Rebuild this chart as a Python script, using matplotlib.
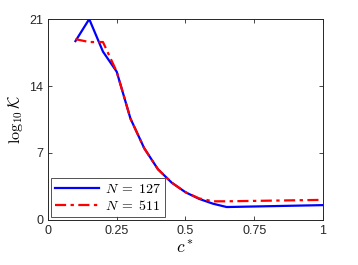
import matplotlib
matplotlib.use("Agg")
import matplotlib.pyplot as plt

plt.rcParams['mathtext.fontset'] = 'cm'
plt.rcParams['font.family'] = ['Liberation Sans', 'DejaVu Sans']

c_127 = [0.10, 0.15, 0.20, 0.25, 0.30, 0.35, 0.40, 0.45, 0.50, 0.55, 0.60, 0.65, 1.00]
k_127 = [18.7, 21.0, 17.6, 15.5, 10.6, 7.5, 5.3, 3.9, 2.9, 2.2, 1.7, 1.35, 1.55]
c_511 = [0.10, 0.15, 0.20, 0.25, 0.30, 0.35, 0.40, 0.45, 0.50, 0.55, 0.60, 0.65, 1.00]
k_511 = [18.9, 18.6, 18.6, 15.5, 10.6, 7.5, 5.3, 3.9, 2.9, 2.25, 1.95, 1.95, 2.1]
labels = [r'$N\;=\;127$', r'$N\;=\;511$']
xticks = [0, 0.25, 0.5, 0.75, 1]
xticklabels = ['0', '0.25', '0.5', '0.75', '1']
yticks = [0, 7, 14, 21]

fig = plt.figure(figsize=(3.58, 2.65), dpi=100)
ax = fig.add_axes([0.134, 0.170, 0.768, 0.758])
ax.plot(c_127, k_127, color='#0000ff', lw=1.6, label=labels[0])
ax.plot(c_511, k_511, color='#ff0000', lw=1.6, ls=(0, (5, 2, 1.5, 2)), label=labels[1])
ax.set_xlim(0, 1)
ax.set_ylim(0, 21)
ax.set_xticks(xticks)
ax.set_xticklabels(xticklabels)
ax.set_yticks(yticks)
for s in ax.spines.values():
    s.set_color('#262626')
    s.set_linewidth(0.7)
ax.tick_params(direction='in', top=True, right=True, labelsize=9, colors='#262626', length=3, width=0.6)
ax.set_xlabel('$c^*$', fontsize=12.5, labelpad=2)
ax.set_ylabel(r'$\log_{10}\mathcal{K}$', fontsize=11.5, labelpad=3)
leg = ax.legend(loc='lower left', fontsize=10, frameon=True, fancybox=False, edgecolor='#262626',
                handlelength=3.2, borderpad=0.3, labelspacing=0.2, handletextpad=0.4,
                borderaxespad=0.2)
leg.get_frame().set_linewidth(0.7)
fig.savefig('out.png', dpi=100)
